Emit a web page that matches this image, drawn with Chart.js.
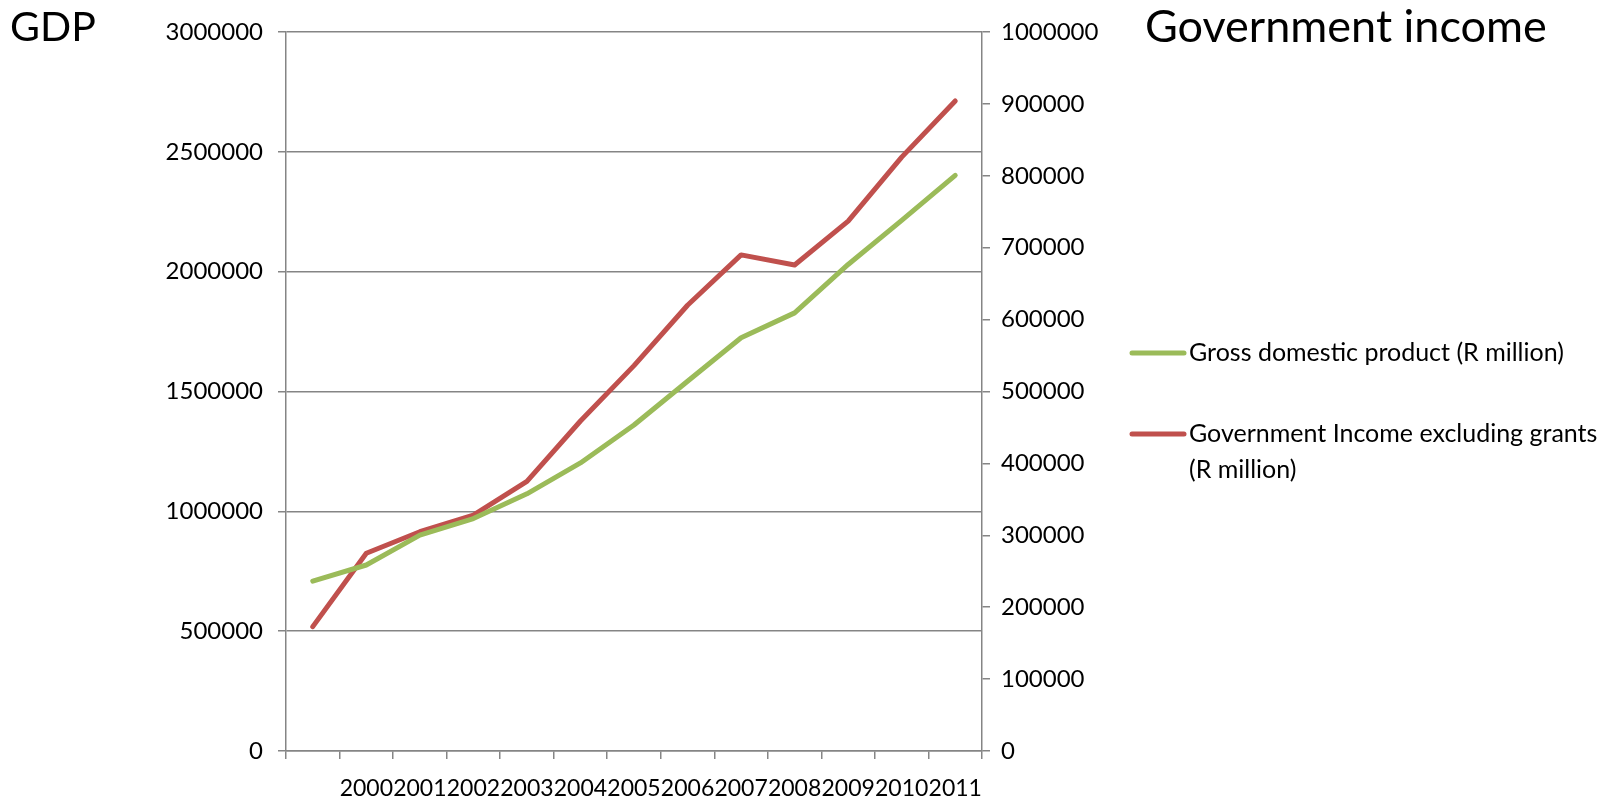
<!DOCTYPE html>
<html>
<head>
<meta charset="utf-8">
<title>GDP and government income</title>
<script src="https://cdn.jsdelivr.net/npm/chart.js@4"></script>
<style>
  html,body{margin:0;padding:0;background:#fff;}
  #wrap{width:1606px;height:798px;position:relative;}
</style>
</head>
<body>
<div id="wrap"><canvas id="chart"></canvas></div>
<script>
const YEARS = ["","2000","2001","2002","2003","2004","2005","2006","2007","2008","2009","2010","2011"];
const GDP = [709000,776000,901000,970000,1073000,1202000,1360000,1543000,1724000,1828000,2030000,2214000,2402000];
const GOV_INCOME = [173000,275000,305000,328000,375000,459000,536000,620000,690000,676000,737000,826000,904000];

const GDP_LABEL = ["Gross domestic product (R million)"];
const GOV_LABEL = ["Government Income excluding grants","(R million)"];

const GREEN = "#9bbb59", RED = "#c0504d", GRID = "#858585";
const FONT = "Lato";

const $ = id => document.getElementById(id);
const plain = v => String(v);

Chart.defaults.font.family = FONT;
Chart.defaults.font.size = 23;
Chart.defaults.color = "#000";

// axis titles in the corners and the legend to the right
const sideText = {
  id:"sideText",
  afterDraw(c){
    const ctx = c.ctx;
    ctx.save();
    ctx.fillStyle = "#000";
    ctx.textBaseline = "alphabetic";
    ctx.font = `41px ${FONT}`;
    ctx.fillText("GDP",10,41);
    ctx.font = `45px ${FONT}`;
    ctx.fillText("Government income",1145,42);

    ctx.font = `25px ${FONT}`;
    ctx.textBaseline = "middle";
    const rows = [{y:353,lines:GDP_LABEL},{y:434,lines:GOV_LABEL}];
    c.data.datasets.forEach((d,i)=>{
      const r = rows[i];
      ctx.strokeStyle = d.borderColor;
      ctx.lineWidth = 5;
      ctx.lineCap = "round";
      ctx.beginPath();
      ctx.moveTo(1132,r.y); ctx.lineTo(1184,r.y);
      ctx.stroke();
      r.lines.forEach((t,j)=>ctx.fillText(t,1189,r.y+j*36));
    });
    ctx.restore();
  }
};

new Chart($("chart"),{
  type:"line",
  data:{
    labels:YEARS,
    datasets:[
      {label:GDP_LABEL.join(" "),data:GDP,yAxisID:"y",borderColor:GREEN,borderWidth:5,
       pointRadius:0,tension:0,borderCapStyle:"round",borderJoinStyle:"round"},
      {label:GOV_LABEL.join(" "),data:GOV_INCOME,yAxisID:"y1",borderColor:RED,borderWidth:5,
       pointRadius:0,tension:0,borderCapStyle:"round",borderJoinStyle:"round"}
    ]
  },
  options:{
    responsive:true,
    maintainAspectRatio:false,
    animation:false,
    layout:{padding:{top:32,right:494,left:0,bottom:0}},
    plugins:{legend:{display:false},tooltip:{enabled:false}},
    scales:{
      x:{
        offset:true,
        grid:{offset:true,drawOnChartArea:false,color:GRID,lineWidth:1.5,tickLength:8},
        border:{color:GRID,width:1.5},
        ticks:{autoSkip:false,maxRotation:0,padding:16},
        afterFit:s=>{s.height=47;}
      },
      y:{
        position:"left",min:0,max:3000000,
        ticks:{stepSize:500000,padding:15,font:{size:24},callback:plain},
        grid:{color:GRID,lineWidth:1.5,tickLength:8},
        border:{color:GRID,width:1.5},
        afterFit:s=>{s.width=286;}
      },
      y1:{
        position:"right",min:0,max:1000000,
        ticks:{stepSize:100000,padding:11,font:{size:24},callback:plain},
        grid:{drawOnChartArea:false,color:GRID,lineWidth:1.5,tickLength:8},
        border:{color:GRID,width:1.5},
        afterFit:s=>{s.width=130;}
      }
    }
  },
  plugins:[sideText]
});
</script>
</body>
</html>
